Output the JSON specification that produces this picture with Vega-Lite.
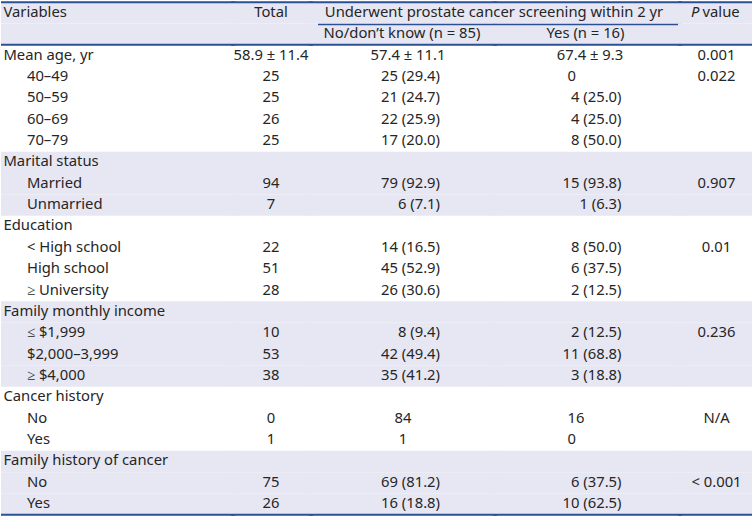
{
  "$schema": "https://vega.github.io/schema/vega-lite/v6.json",
  "padding": 0,
  "spacing": 0,
  "bounds": "flush",
  "background": "white",
  "config": {
    "view": {"stroke": null},
    "axis": {"disable": true},
    "text": {"font": "Noto Sans", "fontSize": 14.8, "color": "#262626"},
    "concat": {"spacing": 0}
  },
  "data": {
    "values": [
      {"r": 0, "lvl": 0, "var": "Variables", "total": "Total", "grp": "Underwent prostate cancer screening within 2 yr", "no": "", "yes": "", "pi": "P", "p": "value", "shade": true},
      {"r": 1, "lvl": 0, "var": "", "total": "", "grp": "", "no": "No/don’t know (n = 85)", "yes": "Yes (n = 16)", "pi": "", "p": "", "shade": true},
      {"r": 2, "lvl": 0, "var": "Mean age, yr", "total": "58.9 ± 11.4", "no": "57.4 ± 11.1", "yes": "67.4 ± 9.3", "p": "0.001", "shade": false},
      {"r": 3, "lvl": 1, "var": "40–49", "total": "25", "no": "25 (29.4)", "yes": "0", "p": "0.022", "shade": false},
      {"r": 4, "lvl": 1, "var": "50–59", "total": "25", "no": "21 (24.7)", "yes": "4 (25.0)", "p": "", "shade": false},
      {"r": 5, "lvl": 1, "var": "60–69", "total": "26", "no": "22 (25.9)", "yes": "4 (25.0)", "p": "", "shade": false},
      {"r": 6, "lvl": 1, "var": "70–79", "total": "25", "no": "17 (20.0)", "yes": "8 (50.0)", "p": "", "shade": false},
      {"r": 7, "lvl": 0, "var": "Marital status", "total": "", "no": "", "yes": "", "p": "", "shade": true},
      {"r": 8, "lvl": 1, "var": "Married", "total": "94", "no": "79 (92.9)", "yes": "15 (93.8)", "p": "0.907", "shade": true},
      {"r": 9, "lvl": 1, "var": "Unmarried", "total": "7", "no": "6 (7.1)", "yes": "1 (6.3)", "p": "", "shade": true},
      {"r": 10, "lvl": 0, "var": "Education", "total": "", "no": "", "yes": "", "p": "", "shade": false},
      {"r": 11, "lvl": 1, "var": "< High school", "total": "22", "no": "14 (16.5)", "yes": "8 (50.0)", "p": "0.01", "shade": false},
      {"r": 12, "lvl": 1, "var": "High school", "total": "51", "no": "45 (52.9)", "yes": "6 (37.5)", "p": "", "shade": false},
      {"r": 13, "lvl": 1, "var": "≥ University", "total": "28", "no": "26 (30.6)", "yes": "2 (12.5)", "p": "", "shade": false},
      {"r": 14, "lvl": 0, "var": "Family monthly income", "total": "", "no": "", "yes": "", "p": "", "shade": true},
      {"r": 15, "lvl": 1, "var": "≤ $1,999", "total": "10", "no": "8 (9.4)", "yes": "2 (12.5)", "p": "0.236", "shade": true},
      {"r": 16, "lvl": 1, "var": "$2,000–3,999", "total": "53", "no": "42 (49.4)", "yes": "11 (68.8)", "p": "", "shade": true},
      {"r": 17, "lvl": 1, "var": "≥ $4,000", "total": "38", "no": "35 (41.2)", "yes": "3 (18.8)", "p": "", "shade": true},
      {"r": 18, "lvl": 0, "var": "Cancer history", "total": "", "no": "", "yes": "", "p": "", "shade": false},
      {"r": 19, "lvl": 1, "var": "No", "total": "0", "no": "84", "yes": "16", "p": "N/A", "shade": false},
      {"r": 20, "lvl": 1, "var": "Yes", "total": "1", "no": "1", "yes": "0", "p": "", "shade": false},
      {"r": 21, "lvl": 0, "var": "Family history of cancer", "total": "", "no": "", "yes": "", "p": "", "shade": true},
      {"r": 22, "lvl": 1, "var": "No", "total": "75", "no": "69 (81.2)", "yes": "6 (37.5)", "p": "< 0.001", "shade": true},
      {"r": 23, "lvl": 1, "var": "Yes", "total": "26", "no": "16 (18.8)", "yes": "10 (62.5)", "p": "", "shade": true}
    ]
  },
  "hconcat": [
    {
      "width": 230, "height": 517,
      "encoding": {"y": {"field": "r", "type": "ordinal", "axis": null, "scale": {"domain": [0,1,2,3,4,5,6,7,8,9,10,11,12,13,14,15,16,17,18,19,20,21,22,23], "paddingInner": 0, "paddingOuter": 0.1}}},
      "layer": [
        {"transform": [{"filter": "datum.shade"}], "mark": {"type": "rect", "color": "#e7e7f3", "xOffset": -1, "x2Offset": 3}, "encoding": {"x": {"value": 0}, "x2": {"value": "width"}}},
        {"transform": [{"filter": "datum.r == 0"}], "mark": {"type": "rule", "color": "#2d4f94", "strokeWidth": 2, "xOffset": -1, "x2Offset": 3}, "encoding": {"x": {"value": 0}, "x2": {"value": "width"}, "y": {"field": "r", "type": "ordinal", "axis": null, "bandPosition": 0}}},
        {"transform": [{"filter": "datum.r == 1 || datum.r == 23"}], "mark": {"type": "rule", "color": "#2d4f94", "strokeWidth": 2, "xOffset": -1, "x2Offset": 3}, "encoding": {"x": {"value": 0}, "x2": {"value": "width"}, "y": {"field": "r", "type": "ordinal", "axis": null, "bandPosition": 1}}},
        {"mark": {"type": "text", "align": "left"},
         "encoding": {"x": {"field": "lvl", "type": "quantitative", "axis": null, "scale": {"domain": [-0.06, 9.72], "nice": false, "zero": false}}, "text": {"field": "var"}}}
      ]
    },
    {
      "width": 78, "height": 517,
      "encoding": {"y": {"field": "r", "type": "ordinal", "axis": null, "scale": {"domain": [0,1,2,3,4,5,6,7,8,9,10,11,12,13,14,15,16,17,18,19,20,21,22,23], "paddingInner": 0, "paddingOuter": 0.1}}},
      "layer": [
        {"transform": [{"filter": "datum.shade"}], "mark": {"type": "rect", "color": "#e7e7f3", "xOffset": -1, "x2Offset": 3}, "encoding": {"x": {"value": 0}, "x2": {"value": "width"}}},
        {"transform": [{"filter": "datum.r == 0"}], "mark": {"type": "rule", "color": "#2d4f94", "strokeWidth": 2, "xOffset": -1, "x2Offset": 3}, "encoding": {"x": {"value": 0}, "x2": {"value": "width"}, "y": {"field": "r", "type": "ordinal", "axis": null, "bandPosition": 0}}},
        {"transform": [{"filter": "datum.r == 1 || datum.r == 23"}], "mark": {"type": "rule", "color": "#2d4f94", "strokeWidth": 2, "xOffset": -1, "x2Offset": 3}, "encoding": {"x": {"value": 0}, "x2": {"value": "width"}, "y": {"field": "r", "type": "ordinal", "axis": null, "bandPosition": 1}}},
        {"mark": {"type": "text", "align": "center"}, "encoding": {"text": {"field": "total"}}}
      ]
    },
    {
      "width": 184, "height": 517,
      "encoding": {"y": {"field": "r", "type": "ordinal", "axis": null, "scale": {"domain": [0,1,2,3,4,5,6,7,8,9,10,11,12,13,14,15,16,17,18,19,20,21,22,23], "paddingInner": 0, "paddingOuter": 0.1}}},
      "layer": [
        {"transform": [{"filter": "datum.shade"}], "mark": {"type": "rect", "color": "#e7e7f3", "xOffset": -1, "x2Offset": 3}, "encoding": {"x": {"value": 0}, "x2": {"value": "width"}}},
        {"transform": [{"filter": "datum.r == 0"}], "mark": {"type": "rule", "color": "#2d4f94", "strokeWidth": 2, "xOffset": -1, "x2Offset": 3}, "encoding": {"x": {"value": 0}, "x2": {"value": "width"}, "y": {"field": "r", "type": "ordinal", "axis": null, "bandPosition": 0}}},
        {"transform": [{"filter": "datum.r == 1 || datum.r == 23"}], "mark": {"type": "rule", "color": "#2d4f94", "strokeWidth": 2, "xOffset": -1, "x2Offset": 3}, "encoding": {"x": {"value": 0}, "x2": {"value": "width"}, "y": {"field": "r", "type": "ordinal", "axis": null, "bandPosition": 1}}},
        {"transform": [{"filter": "datum.r == 0"}], "mark": {"type": "rule", "color": "#2d4f94", "strokeWidth": 1.5, "xOffset": 8, "x2Offset": 3}, "encoding": {"x": {"value": 0}, "x2": {"value": "width"}, "y": {"field": "r", "type": "ordinal", "axis": null, "bandPosition": 1.05}}},
        {"transform": [{"filter": "datum.r == 1"}], "mark": {"type": "text", "align": "center"}, "encoding": {"text": {"field": "no"}}},
        {"transform": [{"filter": "datum.r > 1 && test(/[(]/, datum.no)"}], "mark": {"type": "text", "align": "right", "dx": 38}, "encoding": {"text": {"field": "no"}}},
        {"transform": [{"filter": "datum.r > 1 && test(/[.]/, datum.no) && !test(/[(]/, datum.no)"}], "mark": {"type": "text", "align": "center", "dx": 6}, "encoding": {"text": {"field": "no"}}},
        {"transform": [{"filter": "datum.r > 1 && !test(/[(.]/, datum.no)"}], "mark": {"type": "text", "align": "center", "dx": 1}, "encoding": {"text": {"field": "no"}}}
      ]
    },
    {
      "width": 185, "height": 517,
      "encoding": {"y": {"field": "r", "type": "ordinal", "axis": null, "scale": {"domain": [0,1,2,3,4,5,6,7,8,9,10,11,12,13,14,15,16,17,18,19,20,21,22,23], "paddingInner": 0, "paddingOuter": 0.1}}},
      "layer": [
        {"transform": [{"filter": "datum.shade"}], "mark": {"type": "rect", "color": "#e7e7f3", "xOffset": -1, "x2Offset": 3}, "encoding": {"x": {"value": 0}, "x2": {"value": "width"}}},
        {"transform": [{"filter": "datum.r == 0"}], "mark": {"type": "rule", "color": "#2d4f94", "strokeWidth": 2, "xOffset": -1, "x2Offset": 3}, "encoding": {"x": {"value": 0}, "x2": {"value": "width"}, "y": {"field": "r", "type": "ordinal", "axis": null, "bandPosition": 0}}},
        {"transform": [{"filter": "datum.r == 1 || datum.r == 23"}], "mark": {"type": "rule", "color": "#2d4f94", "strokeWidth": 2, "xOffset": -1, "x2Offset": 3}, "encoding": {"x": {"value": 0}, "x2": {"value": "width"}, "y": {"field": "r", "type": "ordinal", "axis": null, "bandPosition": 1}}},
        {"transform": [{"filter": "datum.r == 0"}], "mark": {"type": "rule", "color": "#2d4f94", "strokeWidth": 1.5, "xOffset": -1, "x2Offset": 2}, "encoding": {"x": {"value": 0}, "x2": {"value": "width"}, "y": {"field": "r", "type": "ordinal", "axis": null, "bandPosition": 1.05}}},
        {"transform": [{"filter": "datum.r == 0"}], "mark": {"type": "text", "align": "center", "dx": -92.5}, "encoding": {"text": {"field": "grp"}}},
        {"transform": [{"filter": "datum.r == 1"}], "mark": {"type": "text", "align": "center", "dx": -1}, "encoding": {"text": {"field": "yes"}}},
        {"transform": [{"filter": "datum.r > 1 && test(/[(]/, datum.yes)"}], "mark": {"type": "text", "align": "right", "dx": 35}, "encoding": {"text": {"field": "yes"}}},
        {"transform": [{"filter": "datum.r > 1 && test(/[.]/, datum.yes) && !test(/[(]/, datum.yes)"}], "mark": {"type": "text", "align": "center", "dx": 3.5}, "encoding": {"text": {"field": "yes"}}},
        {"transform": [{"filter": "datum.r > 1 && !test(/[(.]/, datum.yes)"}], "mark": {"type": "text", "align": "left", "dx": -19}, "encoding": {"text": {"field": "yes"}}}
      ]
    },
    {
      "width": 75, "height": 517,
      "encoding": {"y": {"field": "r", "type": "ordinal", "axis": null, "scale": {"domain": [0,1,2,3,4,5,6,7,8,9,10,11,12,13,14,15,16,17,18,19,20,21,22,23], "paddingInner": 0, "paddingOuter": 0.1}}},
      "layer": [
        {"transform": [{"filter": "datum.shade"}], "mark": {"type": "rect", "color": "#e7e7f3", "xOffset": -1, "x2Offset": 3}, "encoding": {"x": {"value": 0}, "x2": {"value": "width"}}},
        {"transform": [{"filter": "datum.r == 0"}], "mark": {"type": "rule", "color": "#2d4f94", "strokeWidth": 2, "xOffset": -1, "x2Offset": 3}, "encoding": {"x": {"value": 0}, "x2": {"value": "width"}, "y": {"field": "r", "type": "ordinal", "axis": null, "bandPosition": 0}}},
        {"transform": [{"filter": "datum.r == 1 || datum.r == 23"}], "mark": {"type": "rule", "color": "#2d4f94", "strokeWidth": 2, "xOffset": -1, "x2Offset": 3}, "encoding": {"x": {"value": 0}, "x2": {"value": "width"}, "y": {"field": "r", "type": "ordinal", "axis": null, "bandPosition": 1}}},
        {"transform": [{"filter": "datum.r == 0"}], "mark": {"type": "text", "align": "right", "fontStyle": "italic", "dx": -17}, "encoding": {"text": {"field": "pi"}}},
        {"transform": [{"filter": "datum.r == 0"}], "mark": {"type": "text", "align": "left", "dx": -14}, "encoding": {"text": {"field": "p"}}},
        {"transform": [{"filter": "datum.r > 1"}], "mark": {"type": "text", "align": "center"}, "encoding": {"text": {"field": "p"}}}
      ]
    }
  ]
}
